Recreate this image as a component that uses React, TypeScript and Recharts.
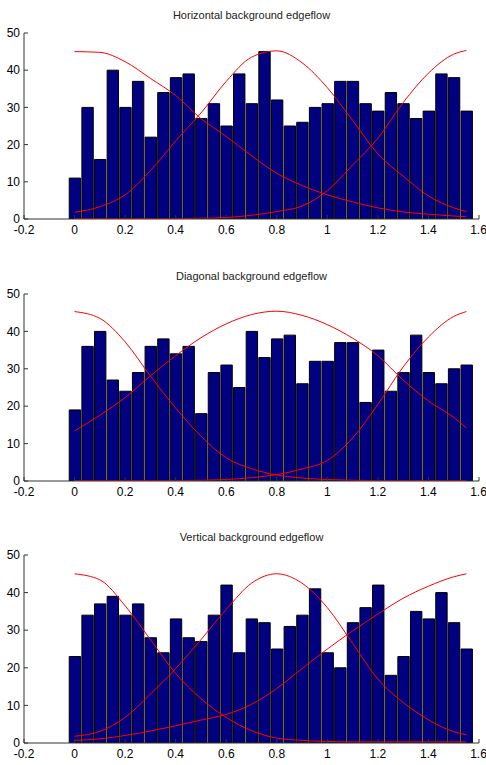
import { ComposedChart, Bar, Line, XAxis, YAxis } from 'recharts';

// bin centres of the histogram (radians)
const binCenters = [
  0, 0.05, 0.1, 0.15, 0.2, 0.25, 0.3, 0.35, 0.4, 0.45, 0.5, 0.55, 0.6, 0.65, 0.7, 0.75,
  0.8, 0.85, 0.9, 0.95, 1.0, 1.05, 1.1, 1.15, 1.2, 1.25, 1.3, 1.35, 1.4, 1.45, 1.5, 1.55,
];

const curveX = [0, 0.1, 0.2, 0.3, 0.4, 0.5, 0.6, 0.7, 0.8, 0.9, 1.0, 1.1, 1.2, 1.3, 1.4, 1.5, 1.55];

const xTicks = [-0.2, 0, 0.2, 0.4, 0.6, 0.8, 1, 1.2, 1.4, 1.6];
const yTicks = [0, 10, 20, 30, 40, 50];

const titles = [
  'Horizontal background edgeflow',
  'Diagonal background edgeflow',
  'Vertical background edgeflow',
];

const hCounts = [11, 30, 16, 40, 30, 37, 22, 34, 38, 39, 27, 31, 25, 39, 31, 45, 32, 25, 26, 30, 31, 37, 37, 31, 29, 34, 31, 27, 29, 39, 38, 29];
const hCurveA = [45, 44.8, 42.3, 37.8, 33.2, 27, 22.2, 17, 12.3, 9, 6.5, 4.6, 3, 1.9, 1.3, 0.8, 0.6];
const hCurveB = [1.8, 3.3, 6.5, 13, 21, 28.5, 37, 43.5, 45.2, 42, 35.3, 26.5, 17.5, 11.5, 6.2, 3, 2];
const hCurveC = [0.1, 0.1, 0.1, 0.1, 0.1, 0.2, 0.4, 1.0, 2.0, 3.5, 7.6, 14.5, 21.7, 31.3, 39.2, 44.3, 45.3];

const dCounts = [19, 36, 40, 27, 24, 29, 36, 38, 34, 36, 18, 29, 31, 25, 40, 33, 38, 39, 26, 32, 32, 37, 37, 21, 35, 24, 29, 39, 29, 26, 30, 31];
const dCurveA = [45.3, 43.5, 37.2, 28.1, 19.5, 12, 6.2, 3.3, 1.6, 0.8, 0.4, 0.2, 0.1, 0.1, 0.1, 0.1, 0.1];
const dCurveB = [13.4, 17.6, 22.3, 28.1, 33.5, 38.3, 42, 44.5, 45.4, 44.3, 41.8, 38.2, 33.5, 27, 21.4, 17, 14.2];
const dCurveC = [0.1, 0.1, 0.1, 0.1, 0.1, 0.2, 0.4, 0.9, 1.7, 3.2, 5.5, 11.5, 20.5, 30.5, 38.5, 44, 45.3];

const vCounts = [23, 34, 37, 39, 34, 37, 28, 24, 33, 28, 27, 34, 42, 24, 33, 32, 25, 31, 34, 41, 24, 20, 32, 36, 42, 18, 23, 35, 33, 40, 32, 25];
const vCurveA = [45, 43.4, 36.5, 27.5, 18.5, 11.8, 6.8, 3.3, 1.3, 0.7, 0.4, 0.3, 0.3, 0.3, 0.3, 0.3, 0.3];
const vCurveB = [1.8, 3.1, 6.8, 13, 19.8, 27.5, 35.5, 42.5, 45, 42.5, 36, 26.5, 17, 10.8, 6.2, 3, 2.2];
const vCurveC = [0.7, 1.1, 2, 3.2, 4.6, 6.1, 7.6, 10.3, 14.5, 19.8, 25, 29.8, 34.3, 38.5, 41.7, 44.2, 45];

const FONT = "'Liberation Sans Narrow', 'Liberation Sans', Arial, sans-serif";
const W = 486;
const PLOT_LEFT = 24;
const PLOT_RIGHT = 479;
const barPx = (0.05 * (PLOT_RIGHT - PLOT_LEFT)) / 1.8;

interface PanelProps {
  title: string;
  counts: number[];
  a: number[];
  b: number[];
  c: number[];
  top: number;
  plotHeight: number;
}

function Panel({ title, counts, a, b, c, top, plotHeight }: PanelProps) {
  const bins = binCenters.map((x, i) => ({ x, count: counts[i] }));
  const curves = curveX.map((x, i) => ({ x, a: a[i], b: b[i], c: c[i] }));
  const height = 33 + plotHeight + 23;

  return (
    <div style={{ position: 'absolute', left: 0, top, width: W, height }}>
      <div
        style={{
          position: 'absolute',
          left: PLOT_LEFT,
          width: PLOT_RIGHT - PLOT_LEFT,
          top: 9,
          textAlign: 'center',
          fontFamily: FONT,
          fontSize: 11,
          color: '#222',
          lineHeight: '12px',
        }}
      >
        {title}
      </div>
      <ComposedChart
        width={W}
        height={height}
        data={bins}
        margin={{ top: 33, right: W - PLOT_RIGHT, left: 4, bottom: 1 }}
      >
        <XAxis
          type="number"
          dataKey="x"
          domain={[-0.2, 1.6]}
          ticks={xTicks}
          allowDataOverflow
          height={22}
          tickSize={-4}
          tickMargin={10}
          stroke="#333"
          tick={{ fill: '#000', fontSize: 12, fontFamily: FONT }}
        />
        <YAxis
          domain={[0, 50]}
          ticks={yTicks}
          allowDataOverflow
          width={20}
          tickSize={-4}
          tickMargin={8}
          stroke="#333"
          tick={{ fill: '#000', fontSize: 12, fontFamily: FONT }}
        />
        <Bar
          dataKey="count"
          fill="#000080"
          stroke="#000"
          strokeWidth={1}
          barSize={barPx}
          isAnimationActive={false}
        />
        <Line data={curves} dataKey="a" type="monotone" stroke="#ff0000" strokeWidth={1} dot={false} isAnimationActive={false} />
        <Line data={curves} dataKey="b" type="monotone" stroke="#ff0000" strokeWidth={1} dot={false} isAnimationActive={false} />
        <Line data={curves} dataKey="c" type="monotone" stroke="#ff0000" strokeWidth={1} dot={false} isAnimationActive={false} />
      </ComposedChart>
    </div>
  );
}

export default function App() {
  return (
    <div style={{ position: 'absolute', left: 0, top: 0, width: W, height: 765, background: '#fff' }}>
      <Panel title={titles[0]} counts={hCounts} a={hCurveA} b={hCurveB} c={hCurveC} top={0} plotHeight={186} />
      <Panel title={titles[1]} counts={dCounts} a={dCurveA} b={dCurveB} c={dCurveC} top={261} plotHeight={187} />
      <Panel title={titles[2]} counts={vCounts} a={vCurveA} b={vCurveB} c={vCurveC} top={522} plotHeight={188} />
    </div>
  );
}
